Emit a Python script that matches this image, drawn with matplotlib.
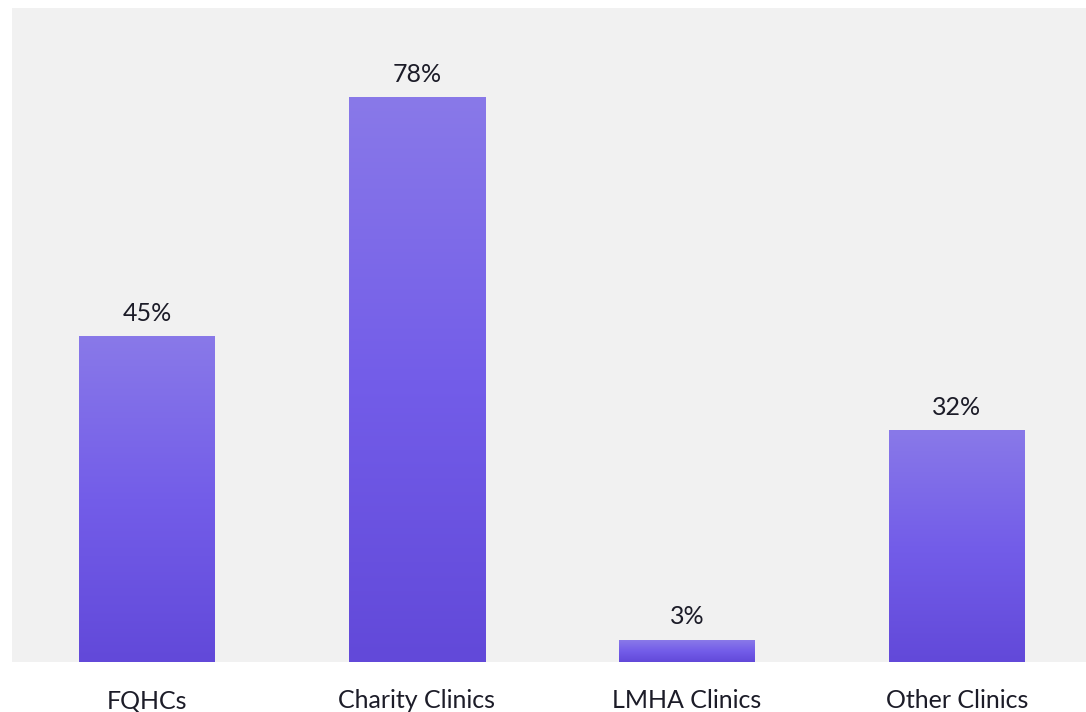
import numpy as np
import matplotlib
matplotlib.use("Agg")
import matplotlib.pyplot as plt
from matplotlib.colors import LinearSegmentedColormap

categories = ["FQHCs", "Charity Clinics", "LMHA Clinics", "Other Clinics"]
values = [45, 78, 3, 32]
labels = ["45%", "78%", "3%", "32%"]

plt.rcParams["font.family"] = ["Lato", "DejaVu Sans"]

fig = plt.figure(figsize=(10.86, 7.12), dpi=100)
fig.patch.set_facecolor("white")
ax = fig.add_axes([12 / 1086, 50 / 712, 1080 / 1086, 654 / 712])
ax.set_facecolor("#f1f1f1")

ymax = 90.4

# vertical gradient: lighter at top, darker at bottom
cmap = LinearSegmentedColormap.from_list(
    "bar_grad", ["#6249d9", "#735de9", "#8979e8"])
grad = np.linspace(0, 1, 256).reshape(-1, 1)

width = 136 / 270
x = np.arange(len(categories))
bars = ax.bar(x, values, width=width, color="none", edgecolor="none")
for rect, v in zip(bars, values):
    x0 = rect.get_x()
    ax.imshow(grad, cmap=cmap, origin="lower", aspect="auto",
              extent=[x0, x0 + rect.get_width(), 0, v], zorder=2,
              interpolation="bilinear")

ax.set_xlim(-0.5, len(categories) - 0.5)
ax.set_ylim(0, ymax)

for xi, v, lab in zip(x, values, labels):
    ax.annotate(lab, (xi, v), xytext=(0, 8.5), textcoords="offset points",
                ha="center", va="bottom", fontsize=18, color="#1c1c28")

ax.set_xticks(x)
ax.set_xticklabels(categories, fontsize=18, color="#1c1c28")
ax.tick_params(axis="x", length=0, pad=19.5)
ax.set_yticks([])
for s in ax.spines.values():
    s.set_visible(False)

fig.savefig("out.png", dpi=100, facecolor="white")
